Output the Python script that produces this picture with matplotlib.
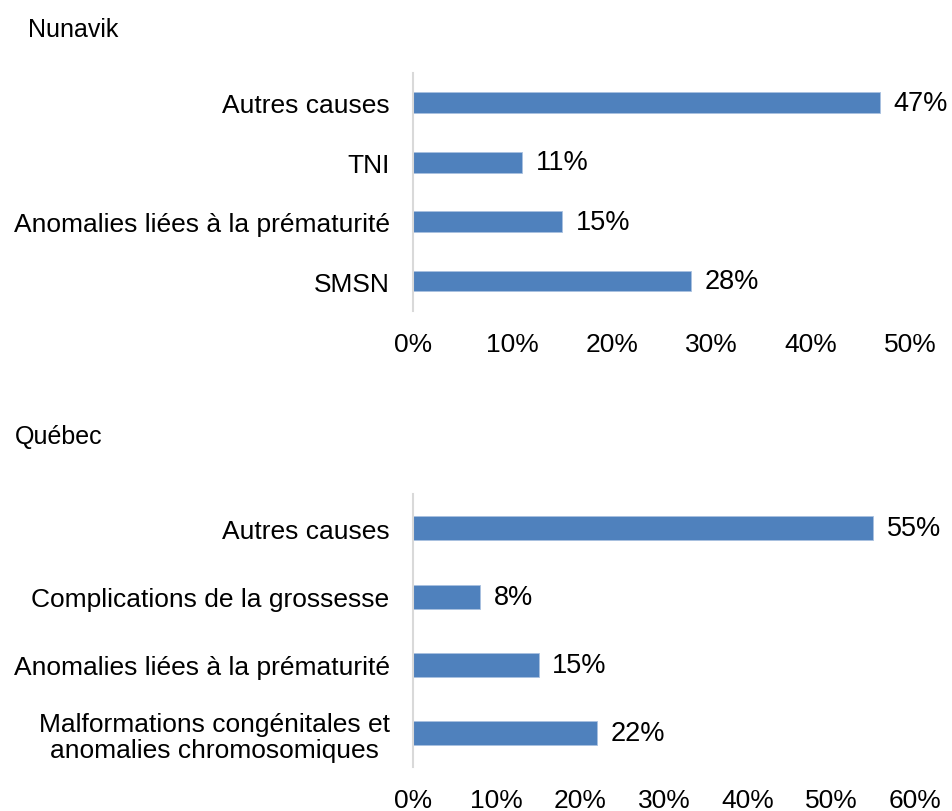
import matplotlib
matplotlib.use("Agg")
import matplotlib.pyplot as plt
from matplotlib.ticker import FuncFormatter

plt.rcParams['font.family'] = ['Liberation Sans', 'DejaVu Sans']

# Nunavik (bottom to top order)
nunavik_causes = ["SMSN", "Anomalies liées à la prématurité", "TNI", "Autres causes"]
nunavik_pct = [28, 15, 11, 47]

# Québec (bottom to top order)
quebec_causes = ["Malformations congénitales et\nanomalies chromosomiques",
                 "Anomalies liées à la prématurité",
                 "Complications de la grossesse",
                 "Autres causes"]
quebec_pct = [22, 15, 8, 55]

BAR = "#4F81BD"
FS = 19

fig = plt.figure(figsize=(9.52, 8.12), dpi=100)


def panel(ax, causes, pct, xmax):
    y = range(len(causes))
    ax.barh(y, pct, height=0.35, color=BAR, edgecolor="#a9c1e0", linewidth=0.6)
    for yi, v in zip(y, pct):
        ax.text(v + xmax * 0.027, yi, f"{v}%", va="center", ha="left", fontsize=FS + 0.5)
    ax.set_ylim(-0.5, len(causes) - 0.5)
    ax.set_xlim(0, xmax)
    ax.set_xticks(range(0, xmax + 1, 10))
    ax.xaxis.set_major_formatter(FuncFormatter(lambda v, p: f"{v:.0f}%"))
    ax.set_yticks(list(y))
    ax.set_yticklabels(causes, fontsize=FS, multialignment="center", linespacing=1.15)
    for s in ["top", "right", "bottom"]:
        ax.spines[s].set_visible(False)
    ax.spines["left"].set_color("#d9d9d9")
    ax.spines["left"].set_linewidth(1.5)
    ax.tick_params(axis="x", length=0, pad=15, labelsize=FS)
    ax.tick_params(axis="y", length=0, pad=17)


ax1 = fig.add_axes([0.434, 0.616, 0.522, 0.293])
panel(ax1, nunavik_causes, nunavik_pct, 50)

ax2 = fig.add_axes([0.434, 0.054, 0.527, 0.336])
panel(ax2, quebec_causes, quebec_pct, 60)

fig.text(28 / 952, 1 - 30 / 812, "Nunavik", fontsize=18, va="center", ha="left")
fig.text(15 / 952, 1 - 437 / 812, "Québec", fontsize=18, va="center", ha="left")

fig.savefig("out.png", dpi=100)
